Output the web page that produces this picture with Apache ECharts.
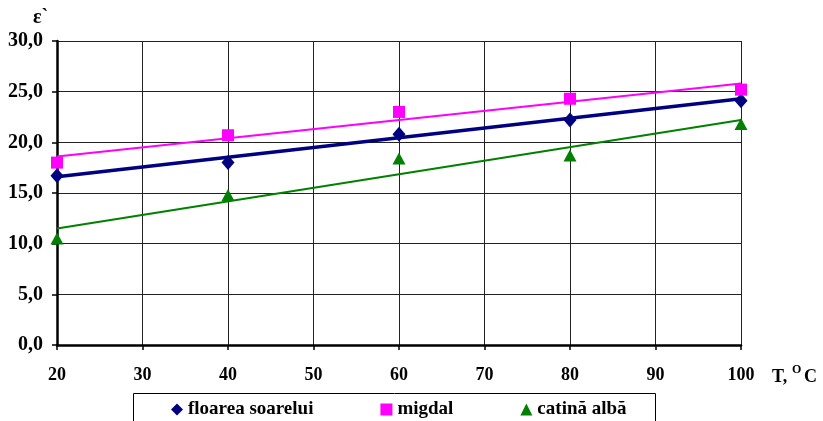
<!DOCTYPE html>
<html>
<head>
<meta charset="utf-8">
<script src="https://cdn.jsdelivr.net/npm/echarts@6/dist/echarts.min.js"></script>
<style>
html,body{margin:0;padding:0;background:#fff;}
#c{width:823px;height:421px;}
</style>
</head>
<body>
<div id="c"></div>
<script>
// Data
var temps = [20, 40, 60, 80, 100];
var floarea = [16.7, 18.0, 20.8, 22.2, 24.1];
var migdal = [18.0, 20.7, 23.0, 24.3, 25.2];
var catina = [10.5, 14.8, 18.4, 18.7, 21.8];
// trendline endpoints (x = 20, x = 100)
var trendX = [20, 100];
var floareaTrend = [16.6, 24.3];
var migdalTrend = [18.6, 25.8];
var catinaTrend = [11.5, 22.2];
var names = ['floarea soarelui', 'migdal', 'catină albă'];

function pairs(xs, ys){ return xs.map(function(x,i){ return [x, ys[i]]; }); }

var FONT = 'Liberation Serif';
var chart = echarts.init(document.getElementById('c'), null, {renderer:'canvas'});
chart.setOption({
  animation:false,
  backgroundColor:'#fff',
  grid:{left:57, right:82, top:41, bottom:76},
  xAxis:{
    type:'value', min:20, max:100, interval:10,
    axisLine:{lineStyle:{color:'#000', width:2.5}},
    axisTick:{show:true, length:5, lineStyle:{color:'#000', width:1.5}},
    axisLabel:{color:'#000', fontFamily:FONT, fontWeight:'bold', fontSize:18, margin:21},
    splitLine:{show:true, lineStyle:{color:'#222', width:1}}
  },
  yAxis:{
    type:'value', min:0, max:30, interval:5,
    axisLine:{show:true, lineStyle:{color:'#000', width:2.5}},
    axisTick:{show:true, length:5, lineStyle:{color:'#000', width:1.5}},
    axisLabel:{color:'#000', fontFamily:FONT, fontWeight:'bold', fontSize:20, margin:14,
      formatter:function(v){ return v.toFixed(1).replace('.', ','); }},
    splitLine:{show:true, lineStyle:{color:'#222', width:1}}
  },
  legend:{
    data:[{name:names[0], icon:'diamond'},{name:names[1], icon:'rect'},{name:names[2], icon:'triangle'}],
    left:171, top:400, itemGap:67, itemWidth:12, itemHeight:12,
    textStyle:{color:'#000', fontFamily:FONT, fontWeight:'bold', fontSize:19},
    padding:0
  },
  graphic:[
    {type:'rect', shape:{x:133.5, y:393.5, width:522, height:40}, style:{fill:'none', stroke:'#000', lineWidth:1}, z:-1},
    {type:'text', left:33, top:8, style:{text:'ε`', fill:'#000', font:'bold 20px "Liberation Serif"'}},
    {type:'text', left:772, top:368, style:{text:'T,', fill:'#000', font:'bold 18px "Liberation Serif"'}},
    {type:'text', left:792, top:364, style:{text:'O', fill:'#000', font:'bold 12px "Liberation Serif"'}},
    {type:'text', left:804, top:368, style:{text:'C', fill:'#000', font:'bold 18px "Liberation Serif"'}}
  ],
  series:[
    {name:'t1', type:'line', data:pairs(trendX, floareaTrend), showSymbol:false, symbol:'none',
      lineStyle:{color:'#000080', width:3.5}, z:3, silent:true},
    {name:'t2', type:'line', data:pairs(trendX, migdalTrend), showSymbol:false, symbol:'none',
      lineStyle:{color:'#FF00FF', width:2}, z:3, silent:true},
    {name:'t3', type:'line', data:pairs(trendX, catinaTrend), showSymbol:false, symbol:'none',
      lineStyle:{color:'#008000', width:2}, z:3, silent:true},
    {name:names[0], type:'scatter', data:pairs(temps, floarea), symbol:'diamond', symbolSize:[13,15],
      itemStyle:{color:'#000080', opacity:1}, z:4},
    {name:names[1], type:'scatter', data:pairs(temps, migdal), symbol:'rect', symbolSize:12,
      itemStyle:{color:'#FF00FF', opacity:1}, z:4},
    {name:names[2], type:'scatter', data:pairs(temps, catina), symbol:'triangle', symbolSize:[13,12],
      itemStyle:{color:'#008000', opacity:1}, z:4}
  ]
});
</script>
</body>
</html>
